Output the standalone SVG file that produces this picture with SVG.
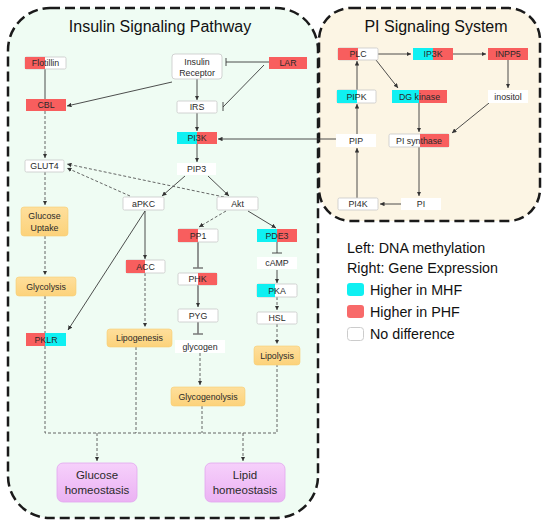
<svg xmlns="http://www.w3.org/2000/svg" width="550" height="531" viewBox="0 0 550 531">
<defs>
<marker id="ah" viewBox="0 0 6 6" refX="6" refY="3" markerWidth="4.5" markerHeight="4.5" markerUnits="userSpaceOnUse" orient="auto"><path d="M0,0 L6,3 L0,6 z" fill="#333"/></marker>
<linearGradient id="og" x1="0" y1="0" x2="0" y2="1"><stop offset="0" stop-color="#fedf9c"/><stop offset="1" stop-color="#fcd27a"/></linearGradient>
<linearGradient id="pg" x1="0" y1="0" x2="0" y2="1"><stop offset="0" stop-color="#f6d0fb"/><stop offset="1" stop-color="#ebb2f3"/></linearGradient>
<style>
text{font-family:"Liberation Sans",Arial,sans-serif;fill:#2a2a2a;text-anchor:middle}
.lbl{font-size:8.8px}
.ttl{font-size:16px;fill:#111}
.leg{font-size:14.3px;text-anchor:start;fill:#111}
.w{fill:#fff;stroke:#c8c8c8;stroke-width:0.8}
.nb{fill:#fff}
.r{fill:#f85e5e}
.c{fill:#0ff0f2}
.o{fill:url(#og);stroke:#f6cd73;stroke-width:0.6}
.p{fill:url(#pg);stroke:#e2a6ef;stroke-width:0.8}
.s{fill:none;stroke:#3a3a3a;stroke-width:0.9}
.g{fill:none;stroke:#7a7a7a;stroke-width:1.6}
.d{fill:none;stroke:#555;stroke-width:0.9;stroke-dasharray:3,2}
.a{marker-end:url(#ah)}
.panel{stroke:#1a1a1a;stroke-width:2.5;stroke-dasharray:10,5}
</style>
</defs>
<rect width="550" height="531" fill="#fff"/>
<rect id="panel-insulin" class="panel" x="8" y="8" width="310" height="510" rx="42" fill="#effcf3"/>
<rect id="panel-pi" class="panel" x="319" y="8" width="221" height="213" rx="32" fill="#fcf5e4"/>
<text class="ttl" x="160" y="32">Insulin Signaling Pathway</text>
<text class="ttl" x="436" y="32">PI Signaling System</text>

<g id="connectors">
<path class="s" d="M45,69 V99"/>
<path class="s a" d="M172,82 L67,106"/>
<path class="s a" d="M197,79 V100"/>
<path class="s a" d="M197,113 V131"/>
<path class="s a" d="M197,144 V162"/>
<path class="s a" d="M336,139 H218"/>
<path class="s a" d="M185,176 L162,196"/>
<path class="s a" d="M208,176 L229,196"/>
<path class="s a" d="M248,211 L276,228"/>
<path class="s a" d="M145,211 V259"/>
<path class="s a" d="M145,211 L68,330"/>
<path class="s a" d="M277,270 V283"/>
<path class="s" d="M269,62 H226 M226,58 V66"/>
<path class="s" d="M264,65 L223,107 M223,102 V111"/>
<path class="s" d="M277,242 V253 M272,253 H282"/>
<path class="g" d="M198,242 V268 M193,268 H203"/>
<path class="g a" d="M198,285 V307"/>
<path class="g" d="M198,322 V334 M193,334 H203"/>
<path class="d a" d="M45,111 V158"/>
<path class="d a" d="M45,172 V205"/>
<path class="d a" d="M45,236 V275"/>
<path class="d a" d="M130,196 L67,168"/>
<path class="d a" d="M224,197 L67,164"/>
<path class="d a" d="M226,211 L199,227"/>
<path class="d a" d="M145,273 V327"/>
<path class="d a" d="M200,353 V385"/>
<path class="d a" d="M277,297 V310"/>
<path class="d a" d="M277,324 V344"/>
<path class="d" d="M45,296 V433 H277 V365 M136,347 V433 M202,406 V433"/>
<path class="d a" d="M97,433 V461"/>
<path class="d a" d="M243,433 V461"/>
<path class="s a" d="M378,54 H411"/>
<path class="s a" d="M453,54 H486"/>
<path class="s a" d="M508,60 V88"/>
<path class="s a" d="M376,60 L398,88"/>
<path class="s a" d="M357,90 V61"/>
<path class="s a" d="M357,134 V104"/>
<path class="s a" d="M357,198 V148"/>
<path class="s a" d="M419,103 V132"/>
<path class="s a" d="M489,103 L452,133"/>
<path class="s a" d="M419,147 V196"/>
<path class="s a" d="M401,204 H380"/>
</g>

<g id="flotillin"><rect class="w" x="25" y="57" width="41" height="12" rx="1.5"/><rect class="r" x="25" y="57" width="20" height="12"/><text class="lbl" x="45.5" y="66">Flotillin</text></g>
<g id="insulin-receptor"><rect class="w" x="172" y="54" width="50" height="25" rx="3"/><text class="lbl" x="197" y="64.5">Insulin</text><text class="lbl" x="197" y="75.5">Receptor</text></g>
<g id="lar"><rect class="r" x="269" y="57" width="38" height="12"/><text class="lbl" x="288" y="66">LAR</text></g>
<g id="cbl"><rect class="r" x="26" y="99" width="40" height="12"/><text class="lbl" x="46" y="108">CBL</text></g>
<g id="irs"><rect class="w" x="177" y="101" width="40" height="12" rx="1.5"/><text class="lbl" x="197" y="110">IRS</text></g>
<g id="pi3k"><rect class="c" x="177" y="132" width="20" height="12"/><rect class="r" x="197" y="132" width="20" height="12"/><text class="lbl" x="197" y="141">PI3K</text></g>
<g id="glut4"><rect class="w" x="25" y="160" width="39" height="12" rx="1.5"/><text class="lbl" x="44.5" y="169">GLUT4</text></g>
<g id="pip3"><rect class="nb" x="177" y="163" width="39" height="12"/><text class="lbl" x="196.5" y="172">PIP3</text></g>
<g id="apkc"><rect class="w" x="123" y="197" width="41" height="13" rx="1.5"/><text class="lbl" x="143.5" y="206.5">aPKC</text></g>
<g id="akt"><rect class="w" x="217" y="197" width="41" height="13" rx="1.5"/><text class="lbl" x="237.5" y="206.5">Akt</text></g>
<g id="glucose-uptake"><rect class="o" x="21" y="207" width="47" height="29" rx="3"/><text class="lbl" x="44.5" y="219">Glucose</text><text class="lbl" x="44.5" y="231">Uptake</text></g>
<g id="pp1"><rect class="w" x="178" y="229" width="40" height="13" rx="1.5"/><rect class="r" x="178" y="229" width="20" height="13"/><text class="lbl" x="198" y="238.5">PP1</text></g>
<g id="pde3"><rect class="c" x="257" y="229" width="20" height="13"/><rect class="r" x="277" y="229" width="20" height="13"/><text class="lbl" x="277" y="238.5">PDE3</text></g>
<g id="acc"><rect class="w" x="126" y="260" width="39" height="13" rx="1.5"/><rect class="r" x="126" y="260" width="19" height="13"/><text class="lbl" x="145.5" y="269.5">ACC</text></g>
<g id="camp"><rect class="nb" x="257" y="257" width="40" height="12"/><text class="lbl" x="277" y="266">cAMP</text></g>
<g id="phk"><rect class="w" x="178" y="273" width="39" height="12" rx="1.5"/><rect class="r" x="198" y="273" width="19" height="12"/><text class="lbl" x="197.5" y="282">PHK</text></g>
<g id="glycolysis"><rect class="o" x="16" y="277" width="60" height="19" rx="3"/><text class="lbl" x="46" y="289.5">Glycolysis</text></g>
<g id="pka"><rect class="w" x="257" y="284" width="40" height="13" rx="1.5"/><rect class="c" x="257" y="284" width="18" height="13"/><text class="lbl" x="277" y="293.5">PKA</text></g>
<g id="pyg"><rect class="w" x="178" y="309" width="40" height="13" rx="1.5"/><text class="lbl" x="198" y="318.5">PYG</text></g>
<g id="hsl"><rect class="w" x="257" y="312" width="40" height="12" rx="1.5"/><text class="lbl" x="277" y="321">HSL</text></g>
<g id="pklr"><rect class="r" x="26" y="333" width="19" height="13"/><rect class="c" x="45" y="333" width="21" height="13"/><text class="lbl" x="46" y="342.5">PKLR</text></g>
<g id="lipogenesis"><rect class="o" x="107" y="329" width="65" height="18" rx="3"/><text class="lbl" x="139.5" y="341">Lipogenesis</text></g>
<g id="glycogen"><rect class="nb" x="175" y="340" width="50" height="13"/><text class="lbl" x="200" y="349.5">glycogen</text></g>
<g id="lipolysis"><rect class="o" x="254" y="346" width="46" height="19" rx="3"/><text class="lbl" x="277" y="358.5">Lipolysis</text></g>
<g id="glycogenolysis"><rect class="o" x="171" y="387" width="74" height="19" rx="3"/><text class="lbl" x="208" y="399.5">Glycogenolysis</text></g>
<g id="glucose-homeostasis"><rect class="p" x="57" y="463" width="80" height="39" rx="6"/><text x="97" y="479" font-size="11.5">Glucose</text><text x="97" y="494" font-size="11.5">homeostasis</text></g>
<g id="lipid-homeostasis"><rect class="p" x="205" y="463" width="80" height="39" rx="6"/><text x="245" y="479" font-size="11.5">Lipid</text><text x="245" y="494" font-size="11.5">homeostasis</text></g>

<g id="plc"><rect class="w" x="338" y="48" width="40" height="12" rx="1.5"/><rect class="r" x="338" y="48" width="20" height="12"/><text class="lbl" x="358" y="57">PLC</text></g>
<g id="ip3k"><rect class="c" x="413" y="48" width="20" height="12"/><rect class="r" x="433" y="48" width="20" height="12"/><text class="lbl" x="433" y="57">IP3K</text></g>
<g id="inpp5"><rect class="r" x="488" y="48" width="40" height="12"/><text class="lbl" x="508" y="57">INPP5</text></g>
<g id="pipk"><rect class="w" x="337" y="90" width="39" height="13" rx="1.5"/><rect class="c" x="337" y="90" width="20" height="13"/><text class="lbl" x="356.5" y="99.5">PIPK</text></g>
<g id="dg-kinase"><rect class="c" x="392" y="90" width="27" height="13"/><rect class="r" x="419" y="90" width="28" height="13"/><text class="lbl" x="419.5" y="99.5">DG kinase</text></g>
<g id="inositol"><rect class="nb" x="488" y="90" width="40" height="13"/><text class="lbl" x="508" y="99.5">inositol</text></g>
<g id="pip"><rect class="nb" x="336" y="134" width="40" height="13"/><text class="lbl" x="356" y="143.5">PIP</text></g>
<g id="pi-synthase"><rect class="w" x="389" y="134" width="60" height="13" rx="1.5"/><rect class="r" x="420" y="134" width="29" height="13"/><text class="lbl" x="419" y="143.5">PI synthase</text></g>
<g id="pi4k"><rect class="w" x="338" y="198" width="40" height="12" rx="1.5"/><text class="lbl" x="358" y="207">PI4K</text></g>
<g id="pi"><rect class="nb" x="401" y="198" width="40" height="12"/><text class="lbl" x="421" y="207">PI</text></g>

<g id="legend">
<text class="leg" x="347" y="253">Left: DNA methylation</text>
<text class="leg" x="347" y="273">Right: Gene Expression</text>
<rect x="347" y="283" width="17" height="13" rx="3" fill="#0ff0f2"/>
<text class="leg" x="370" y="295">Higher in MHF</text>
<rect x="347" y="305" width="17" height="13" rx="3" fill="#f86a6a"/>
<text class="leg" x="370" y="317">Higher in PHF</text>
<rect x="347.5" y="327.5" width="16" height="13" rx="3" fill="#fff" stroke="#ccc"/>
<text class="leg" x="370" y="339">No difference</text>
</g>
</svg>
